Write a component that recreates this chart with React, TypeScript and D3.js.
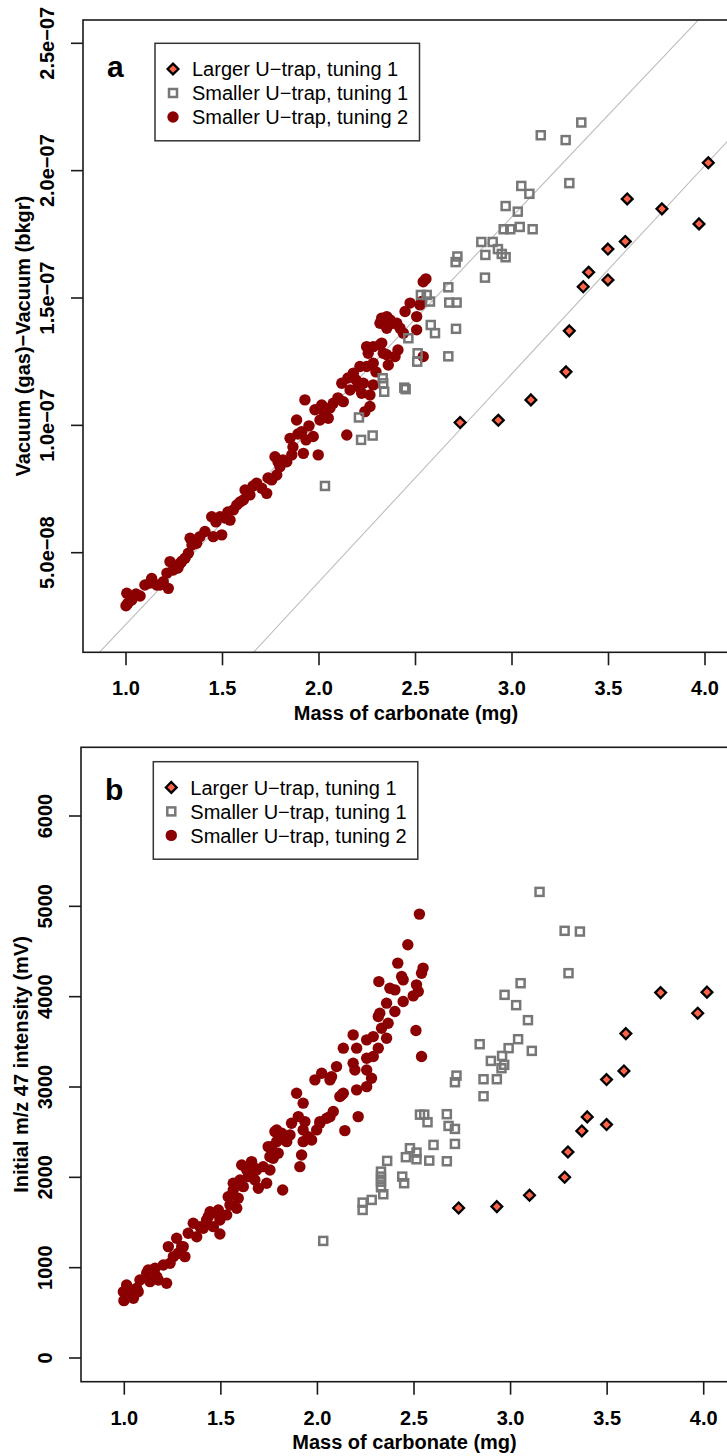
import React from 'react';
import * as d3 from 'd3';

const FONT = '"Liberation Sans", Arial, Helvetica, sans-serif';

// ---------- tick values / labels ----------
const massTicks = [1.0, 1.5, 2.0, 2.5, 3.0, 3.5, 4.0];
const massTickLabels = ['1.0', '1.5', '2.0', '2.5', '3.0', '3.5', '4.0'];
// vacuum values are stored in units of 1e-7
const vacuumTicks = [0.5, 1.0, 1.5, 2.0, 2.5];
const vacuumTickLabels = ['5.0e\u221208', '1.0e\u221207', '1.5e\u221207', '2.0e\u221207', '2.5e\u221207'];
const intensityTicks = [0, 1000, 2000, 3000, 4000, 5000, 6000];
const intensityTickLabels = ['0', '1000', '2000', '3000', '4000', '5000', '6000'];

const legendLabels = [
  'Larger U\u2212trap, tuning 1',
  'Smaller U\u2212trap, tuning 1',
  'Smaller U\u2212trap, tuning 2',
];

// ---------- Larger U-trap, tuning 1 (same samples in both panels) ----------
const largerMass = [4.017, 3.597, 3.777, 3.969, 3.587, 3.497, 3.397, 3.369, 3.497, 3.297, 3.280, 3.098, 2.929, 2.731];
const largerVacuum = [2.031, 1.889, 1.850, 1.791, 1.722, 1.692, 1.601, 1.544, 1.571, 1.371, 1.210, 1.100, 1.020, 1.011];
const largerIntensity = [4050, 3591, 4045, 3817, 3178, 3082, 2669, 2514, 2584, 2281, 2001, 1802, 1676, 1661];

// ---------- Smaller U-trap, tuning 1 ----------
const smallerT1Vacuum: [number, number][] = [
  [3.359, 2.189], [3.149, 2.139], [3.278, 2.120], [3.297, 1.951], [3.048, 1.940], [3.090, 1.909],
  [2.967, 1.861], [3.030, 1.839], [2.957, 1.770], [2.991, 1.770], [3.040, 1.779], [3.107, 1.770],
  [2.841, 1.720], [2.900, 1.720], [2.927, 1.692], [2.862, 1.669], [2.947, 1.673], [2.967, 1.660],
  [2.717, 1.663], [2.708, 1.641], [2.860, 1.580], [2.670, 1.542], [2.528, 1.512], [2.558, 1.512],
  [2.575, 1.486], [2.675, 1.482], [2.713, 1.482], [2.579, 1.394], [2.601, 1.362], [2.710, 1.379],
  [2.463, 1.342], [2.511, 1.283], [2.509, 1.250], [2.670, 1.271], [2.330, 1.185], [2.333, 1.165],
  [2.338, 1.132], [2.442, 1.148], [2.449, 1.142], [2.207, 1.031], [2.218, 0.943], [2.278, 0.960],
  [2.031, 0.762],
];
const smallerT1Intensity: [number, number][] = [
  [3.150, 5160], [3.280, 4729], [3.359, 4721], [3.300, 4260], [3.052, 4149], [2.969, 4020],
  [3.029, 3906], [3.090, 3740], [3.039, 3529], [2.990, 3430], [2.840, 3474], [3.110, 3400],
  [2.898, 3289], [2.956, 3344], [2.967, 3245], [2.953, 3208], [2.860, 3086], [2.929, 3086],
  [2.720, 3126], [2.712, 3053], [2.860, 2898], [2.531, 2694], [2.553, 2694], [2.570, 2610],
  [2.670, 2699], [2.679, 2569], [2.712, 2536], [2.712, 2370], [2.601, 2359], [2.479, 2322],
  [2.458, 2223], [2.513, 2274], [2.513, 2200], [2.579, 2185], [2.670, 2178], [2.361, 2182],
  [2.329, 2063], [2.329, 2008], [2.329, 1952], [2.329, 1890], [2.341, 1813], [2.439, 2008],
  [2.449, 1935], [2.281, 1750], [2.234, 1720], [2.234, 1639], [2.030, 1296],
];

// ---------- Smaller U-trap, tuning 2 ----------
const smallerT2Vacuum: [number, number][] = [
  [1.000, 0.292], [1.004, 0.341], [1.030, 0.314], [1.010, 0.302], [1.073, 0.330], [1.052, 0.338],
  [1.098, 0.373], [1.133, 0.399], [1.159, 0.373], [1.124, 0.381], [1.193, 0.386], [1.176, 0.373],
  [1.219, 0.360], [1.228, 0.465], [1.245, 0.432], [1.212, 0.420], [1.280, 0.458], [1.269, 0.440],
  [1.306, 0.478], [1.323, 0.498], [1.290, 0.467], [1.332, 0.557], [1.342, 0.530], [1.366, 0.537],
  [1.383, 0.563], [1.409, 0.583], [1.444, 0.641], [1.452, 0.563], [1.466, 0.621], [1.496, 0.570],
  [1.487, 0.641], [1.513, 0.636], [1.539, 0.628], [1.528, 0.660], [1.556, 0.668], [1.574, 0.687],
  [1.591, 0.699], [1.608, 0.707], [1.617, 0.746], [1.632, 0.735], [1.642, 0.727], [1.658, 0.762],
  [1.677, 0.773], [1.703, 0.753], [1.729, 0.733], [1.736, 0.793], [1.755, 0.786], [1.781, 0.805],
  [1.772, 0.877], [1.788, 0.856], [1.798, 0.838], [1.813, 0.864], [1.833, 0.857], [1.859, 0.884],
  [1.850, 0.949], [1.865, 0.915], [1.884, 1.021], [1.891, 0.966], [1.910, 0.975], [1.919, 0.890],
  [1.933, 0.943], [1.927, 1.100], [1.948, 0.998], [1.970, 0.956], [1.979, 1.061], [1.996, 0.884],
  [2.014, 1.080], [2.005, 1.021], [2.026, 1.053], [2.048, 1.028], [2.057, 1.068], [2.074, 1.087],
  [2.098, 1.108], [2.126, 1.093], [2.118, 1.165], [2.144, 0.962], [2.150, 1.186], [2.178, 1.205],
  [2.161, 1.139], [2.192, 1.178], [2.204, 1.152], [2.212, 1.231], [2.230, 1.165], [2.221, 1.126],
  [2.238, 1.054], [2.247, 1.309], [2.247, 1.231], [2.255, 1.283], [2.264, 1.119], [2.264, 1.074],
  [2.281, 1.159], [2.281, 1.309], [2.281, 1.244], [2.295, 1.210], [2.316, 1.316], [2.316, 1.401],
  [2.325, 1.421], [2.325, 1.323], [2.333, 1.283], [2.351, 1.381], [2.351, 1.427], [2.351, 1.277],
  [2.359, 1.237], [2.368, 1.414], [2.385, 1.401], [2.394, 1.270], [2.403, 1.401], [2.409, 1.296],
  [2.420, 1.381], [2.437, 1.362], [2.446, 1.447], [2.472, 1.480], [2.506, 1.427], [2.506, 1.375],
  [2.523, 1.473], [2.532, 1.486], [2.540, 1.564], [2.554, 1.575], [2.540, 1.270],
];
const smallerT2Intensity: [number, number][] = [
  [0.998, 635], [0.995, 734], [1.012, 808], [1.038, 717], [1.047, 661], [1.064, 772], [1.081, 864],
  [1.072, 734], [1.133, 845], [1.124, 975], [1.159, 993], [1.176, 864], [1.219, 827], [1.202, 1030],
  [1.228, 1233], [1.237, 1049], [1.271, 1326], [1.279, 1159], [1.305, 1233], [1.314, 1122],
  [1.331, 1381], [1.357, 1492], [1.375, 1343], [1.392, 1454], [1.426, 1528], [1.444, 1620],
  [1.461, 1454], [1.487, 1639], [1.495, 1373], [1.495, 1528], [1.530, 1584], [1.547, 1694],
  [1.564, 1860], [1.582, 1658], [1.590, 1769], [1.608, 2137], [1.616, 1897], [1.642, 2008],
  [1.659, 2174], [1.676, 1971], [1.685, 2082], [1.694, 1879], [1.719, 2118], [1.737, 1935],
  [1.745, 2340], [1.754, 2082], [1.771, 2211], [1.780, 2506], [1.789, 2395], [1.820, 1860],
  [1.815, 2488], [1.841, 2395], [1.866, 2599], [1.892, 2931], [1.901, 2672], [1.909, 2118],
  [1.918, 2248], [1.926, 2821], [1.926, 2525], [1.926, 2395], [1.970, 2414], [1.996, 2525],
  [2.013, 2617], [2.065, 2672], [2.082, 2728], [2.116, 2894], [2.134, 2931], [2.142, 2517],
  [2.203, 2968], [2.211, 2672], [1.987, 3079], [2.065, 3079], [2.528, 4914], [2.468, 4574],
  [2.416, 4371], [2.547, 4316], [2.539, 4260], [2.436, 4223], [2.444, 4186], [2.318, 4167],
  [2.513, 4131], [2.375, 4094], [2.401, 4075], [2.522, 4057], [2.496, 4009], [2.444, 3946],
  [2.358, 3928], [2.401, 3835], [2.323, 3817], [2.315, 3780], [2.366, 3706], [2.510, 3625],
  [2.332, 3651], [2.358, 3540], [2.289, 3558], [2.255, 3522], [2.185, 3577], [2.134, 3430],
  [2.203, 3430], [2.315, 3430], [2.255, 3319], [2.289, 3337], [2.539, 3337], [2.099, 3226],
  [2.185, 3263], [2.194, 3189], [2.255, 3189], [2.280, 3097], [2.022, 3153], [2.073, 3115],
  [2.255, 3004], [2.125, 2912], [1.935, 2617], [2.048, 2654], [2.013, 2599], [1.789, 2525],
  [1.858, 2469], [1.952, 2451],
  [1.116, 938], [1.168, 900], [1.254, 1122], [1.297, 1233], [1.409, 1436], [1.435, 1565],
  [1.478, 1602], [1.538, 1786], [1.564, 1935], [1.599, 1971], [1.634, 2082], [1.668, 2118],
  [1.754, 2229], [1.763, 2340], [1.797, 2267], [1.832, 2414],
];

// reference lines in panel a (vacuum = slope * (mass - xIntercept), units 1e-7)
const refLineSlopes = [0.80, 0.817];
const refLineXIntercepts = [0.726, 1.527];

// ---------- styles ----------
const RED = '#8B0000';
const GREY = '#777777';
const TOMATO = '#FF6347';
const AXIS = '#1a1a1a';

type Box = { left: number; top: number; right: number; bottom: number };

const Diamond = ({ x, y }: { x: number; y: number }) => (
  <path d={`M${x},${y - 5.4}L${x + 5.4},${y}L${x},${y + 5.4}L${x - 5.4},${y}Z`}
    fill={TOMATO} stroke="#000" strokeWidth={2.3} strokeLinejoin="miter" />
);
const Square = ({ x, y }: { x: number; y: number }) => (
  <rect x={x - 4} y={y - 4} width={8} height={8} fill="none" stroke={GREY} strokeWidth={2.5} />
);
const Dot = ({ x, y }: { x: number; y: number }) => <circle cx={x} cy={y} r={5.7} fill={RED} />;

interface PanelProps {
  id: string;
  box: Box;
  xs: d3.ScaleLinear<number, number>;
  ys: d3.ScaleLinear<number, number>;
  yTicks: number[];
  yTickLabels: string[];
  yTitle: string;
  label: string;
  labelX: number;
  labelY: number;
  legendX: number;
  legendY: number;
  larger: [number, number][];
  t1: [number, number][];
  t2: [number, number][];
  showLines: boolean;
}

const Panel = (p: PanelProps) => {
  const { box, xs, ys } = p;
  const cx = (box.left + box.right) / 2;
  const cy = (box.top + box.bottom) / 2;
  const x0 = xs.invert(box.left);
  const x1 = xs.invert(box.right);
  return (
    <g>
      <defs>
        <clipPath id={`clip-${p.id}`}>
          <rect x={box.left} y={box.top} width={box.right - box.left} height={box.bottom - box.top} />
        </clipPath>
      </defs>
      {p.showLines && (
        <g clipPath={`url(#clip-${p.id})`}>
          {refLineSlopes.map((s, i) => (
            <line key={i}
              x1={xs(x0)} y1={ys(s * (x0 - refLineXIntercepts[i]))}
              x2={xs(x1)} y2={ys(s * (x1 - refLineXIntercepts[i]))}
              stroke="#bdbdbd" strokeWidth={1.1} />
          ))}
        </g>
      )}
      <g>
        {p.t2.map((d, i) => <Dot key={i} x={xs(d[0])} y={ys(d[1])} />)}
        {p.t1.map((d, i) => <Square key={i} x={xs(d[0])} y={ys(d[1])} />)}
        {p.larger.map((d, i) => <Diamond key={i} x={xs(d[0])} y={ys(d[1])} />)}
      </g>
      <rect x={box.left} y={box.top} width={box.right - box.left} height={box.bottom - box.top}
        fill="none" stroke={AXIS} strokeWidth={1.6} />
      {/* x axis */}
      {massTicks.map((t, i) => (
        <g key={i}>
          <line x1={xs(t)} x2={xs(t)} y1={box.bottom} y2={box.bottom + 13} stroke={AXIS} strokeWidth={1.6} />
          <text x={xs(t)} y={box.bottom + 43} textAnchor="middle" fontFamily={FONT} fontWeight="bold" fontSize={20}>
            {massTickLabels[i]}
          </text>
        </g>
      ))}
      <text x={cx} y={box.bottom + 67.5} textAnchor="middle" fontFamily={FONT} fontWeight="bold" fontSize={20}>
        Mass of carbonate (mg)
      </text>
      {/* y axis */}
      {p.yTicks.map((t, i) => (
        <g key={i}>
          <line x1={box.left - 12} x2={box.left} y1={ys(t)} y2={ys(t)} stroke={AXIS} strokeWidth={1.6} />
          <text transform={`translate(${box.left - 29.5},${ys(t)}) rotate(-90)`} textAnchor="middle"
            fontFamily={FONT} fontWeight="bold" fontSize={20}>
            {p.yTickLabels[i]}
          </text>
        </g>
      ))}
      <text transform={`translate(${box.left - 53},${cy}) rotate(-90)`} textAnchor="middle"
        fontFamily={FONT} fontWeight="bold" fontSize={20}>
        {p.yTitle}
      </text>
      {/* panel label */}
      <text x={p.labelX} y={p.labelY} fontFamily={FONT} fontWeight="bold" fontSize={30}>{p.label}</text>
      {/* legend */}
      <g transform={`translate(${p.legendX},${p.legendY})`}>
        <rect x={0} y={0} width={264.5} height={97.5} fill="#fff" stroke="#333" strokeWidth={1.5} />
        {legendLabels.map((l, i) => {
          const ry = 25.7 + i * 24;
          return (
            <g key={i}>
              {i === 0 && <Diamond x={18} y={ry} />}
              {i === 1 && <Square x={18} y={ry} />}
              {i === 2 && <Dot x={18} y={ry} />}
              <text x={37} y={ry + 7.2} fontFamily={FONT} fontSize={20}>{l}</text>
            </g>
          );
        })}
      </g>
    </g>
  );
};

export default function App() {
  const boxA: Box = { left: 83, top: 20, right: 729, bottom: 652.3 };
  const boxB: Box = { left: 81, top: 747.3, right: 728, bottom: 1381.7 };
  const xA = d3.scaleLinear().domain([1, 4]).range([126, 705]);
  const yA = d3.scaleLinear().domain([0.5, 2.5]).range([552.7, 43.3]);
  const xB = d3.scaleLinear().domain([1, 4]).range([124.3, 703.7]);
  const yB = d3.scaleLinear().domain([0, 6000]).range([1358, 816]);

  const largerA = largerMass.map((m, i) => [m, largerVacuum[i]] as [number, number]);
  const largerB = largerMass.map((m, i) => [m, largerIntensity[i]] as [number, number]);

  return (
    <svg width={727} height={1456} style={{ position: 'absolute', left: 0, top: 0, background: '#fff' }}>
      <rect x={0} y={0} width={727} height={1456} fill="#fff" />
      <Panel id="a" box={boxA} xs={xA} ys={yA} yTicks={vacuumTicks} yTickLabels={vacuumTickLabels}
        yTitle={'Vacuum (gas)\u2212Vacuum (bkgr)'} label="a" labelX={107} labelY={77.3}
        legendX={155} legendY={43.3} larger={largerA} t1={smallerT1Vacuum} t2={smallerT2Vacuum} showLines={true} />
      <Panel id="b" box={boxB} xs={xB} ys={yB} yTicks={intensityTicks} yTickLabels={intensityTickLabels}
        yTitle="Initial m/z 47 intensity (mV)" label="b" labelX={105} labelY={800}
        legendX={153.3} legendY={761.7} larger={largerB} t1={smallerT1Intensity} t2={smallerT2Intensity} showLines={false} />
    </svg>
  );
}
